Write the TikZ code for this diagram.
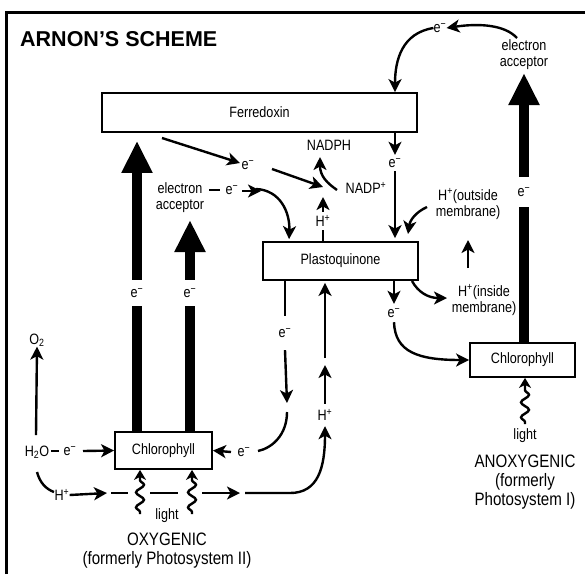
\documentclass[tikz,border=0pt]{standalone}
\usepackage{fontspec}
\setmainfont{Liberation Sans}[FakeStretch=0.84]
\newfontfamily\titlefont{Liberation Sans}
\usetikzlibrary{arrows.meta,decorations.pathmorphing}
\newcommand\elec{e\textsuperscript{−}}
\newcommand\Hp{H\textsuperscript{+}}
\begin{document}
\begin{tikzpicture}[x=1pt,y=-1pt,
  lbl/.style={inner sep=0pt, font=\fontsize{15}{16}\selectfont, align=center},
  captxt/.style={inner sep=0pt, font=\fontsize{18}{19}\selectfont, align=center},
  box/.style={draw, line width=1.8pt, inner sep=0pt, font=\fontsize{15}{16}\selectfont},
  tip/.style={-{Stealth[length=13pt,width=13pt,inset=3.5pt]}},
  ln/.style={line width=2.4pt},
  arr/.style={ln, tip},
  fat/.style={line width=10.5pt, -{Triangle[length=32pt,width=29pt]}},
  fatln/.style={line width=10.5pt},
  wave/.style={line width=2.4pt, decorate,
    decoration={snake,amplitude=4pt,segment length=15pt,pre length=2pt,post length=9pt},
    -{Stealth[length=10pt,width=12pt,inset=3pt]}}
]
\useasboundingbox (0,0) rectangle (585,574);
% frame
\draw[line width=3pt] (6,574) -- (6,12) -- (585,12);
\node[anchor=base west, inner sep=0pt, font=\titlefont\bfseries\fontsize{21.5}{23}\selectfont] (title) at (20,46) {ARNON’S SCHEME};

% boxes
\node[box, minimum width=315pt, minimum height=39pt] (ferr) at (259.5,112.5) {Ferredoxin};
\node[box, minimum width=155pt, minimum height=38pt] (pq) at (340.5,261) {Plastoquinone};
\node[box, minimum width=105pt, minimum height=34pt] (chlR) at (522.5,360) {Chlorophyll};
\node[box, minimum width=97pt, minimum height=37pt] (chlL) at (163.5,450.5) {Chlorophyll};

% labels
\node[lbl] (eTop) at (440,28) {\elec};
\node[lbl] (acc2) at (524,55) {electron\\acceptor};
\node[lbl] (nadph) at (329,145) {NADPH};
\node[lbl] (nadp) at (366,188) {NADP\textsuperscript{+}};
\node[lbl] (eF) at (248,165) {\elec};
\node[lbl, minimum height=16pt] (eR1) at (395,163) {\elec};
\node[lbl] (acc1) at (180,198) {electron\\acceptor};
\node[lbl] (eA) at (232,190) {\elec};
\node[lbl, minimum height=18pt] (hpQ) at (323,221) {\Hp};
\node[lbl] (hout) at (468,204) {\Hp(outside\\membrane)};
\node[lbl] (hin) at (484,300) {\Hp(inside\\membrane)};
\node[lbl, minimum height=26pt] (e1) at (137,293) {\elec};
\node[lbl, minimum height=26pt] (e2) at (190,293) {\elec};
\node[lbl, minimum height=30pt] (e3) at (524,192) {\elec};
\node[lbl, minimum height=34pt] (eQ1) at (285,333) {\elec};
\node[lbl, minimum height=18pt] (eQ2) at (394,313) {\elec};
\node[lbl, minimum height=22pt] (hpU) at (325,415) {\Hp};
\node[lbl] (o2) at (37,340) {O\textsubscript{2}};
\node[lbl] (h2o) at (37,452) {H\textsubscript{2}O};
\node[lbl] (eW) at (70,451) {\elec};
\node[lbl] (eL) at (244,452) {\elec};
\node[lbl] (hpB) at (62,495) {\Hp};
\node[lbl] (light1) at (167,516) {light};
\node[lbl] (light2) at (525,436) {light};
\node[captxt] (oxy) at (167,551) {OXYGENIC\\(formerly Photosystem II)};
\node[captxt] (anoxy) at (525,482) {ANOXYGENIC\\(formerly\\Photosystem I)};

% thick electron arrows
\draw[fatln] (chlL.north -| e1) -- (e1.south);
\draw[fat, shorten >=8pt] (e1.north) -- (ferr.south -| e1);
\draw[fatln] (chlL.north -| e2) -- (e2.south);
\draw[fat] (e2.north) -- (190,220);
\draw[fatln] (chlR.north -| e3) -- (e3.south);
\draw[fat] (e3.north) -- (524,73);

% top right loop
\draw[arr] (517,38) .. controls (505,25) and (480,23) .. (eTop.east);
\draw[arr] (eTop.west) .. controls (402,33) and (395,60) .. (ferr.north -| 395,0);

% below Ferredoxin
\draw[arr] (ferr.south -| eR1) -- (eR1.north);
\draw[arr, shorten >=3pt] (eR1.south) -- (pq.north -| eR1);
\draw[arr] (162,138) -- (240,163);
\draw[arr] (272,169) -- (323,187);
\draw[arr] (337,190) .. controls (327,183) and (320,176) .. (320,157);
\draw[ln] (pq.north -| hpQ) -- (hpQ.south);
\draw[arr] (hpQ.north) -- (323,197);

% left electron acceptor
\draw[ln] (209,190) -- (220,190);
\draw[arr] (242,191) -- (261,191);
\draw[arr, shorten >=2pt] (256,189) .. controls (280,190) and (290,212) .. (pq.north -| 289,0);

% outside membrane H+
\draw[arr] (427,207) .. controls (416,212) and (410,220) .. (408,234);
\draw[arr] (468,268) -- (468,240);

% below Plastoquinone, right
\draw[arr] (pq.south -| eQ2) -- (eQ2.north);
\draw[arr] (eQ2.south) .. controls (395,352) and (418,360) .. (chlR.west);
\draw[arr] (412,281) .. controls (418,292) and (428,298) .. (447,298);

% below Plastoquinone, left
\draw[ln] (pq.south -| eQ1) -- (eQ1.north);
\draw[arr] (eQ1.south) -- (287,403);
\draw[ln] (287,412) .. controls (287,435) and (272,448) .. (258,451);
\draw[arr] (231,452) -- (chlL.east);

% H+ upward into Plastoquinone
\draw[arr, shorten >=2pt] (325,358) -- (pq.south -| 325,0);
\draw[arr] (hpU.north) -- (325,365);

% left side
\draw[arr] (36,435) -- (o2.south);
\draw[ln] (51,451) -- (59,451);
\draw[arr] (83,451) -- (chlL.west);
\draw[ln] (37,472) .. controls (40,483) and (46,489) .. (54,492);

% bottom H+ line
\draw[arr] (hpB.east) -- (107,493);
\draw[ln] (111,493) -- (128,493);
\draw[ln] (150,493) -- (178,493);
\draw[arr] (202,493) -- (240,493);
\draw[arr] (245,493) -- (290,493) .. controls (318,493) and (325,468) .. (hpU.south);

% light
\draw[wave] (140,514) -- (chlL.south -| 140,0);
\draw[wave] (192,514) -- (chlL.south -| 192,0);
\draw[wave] (525,424) -- (chlR.south -| 525,0);
\end{tikzpicture}
\end{document}
